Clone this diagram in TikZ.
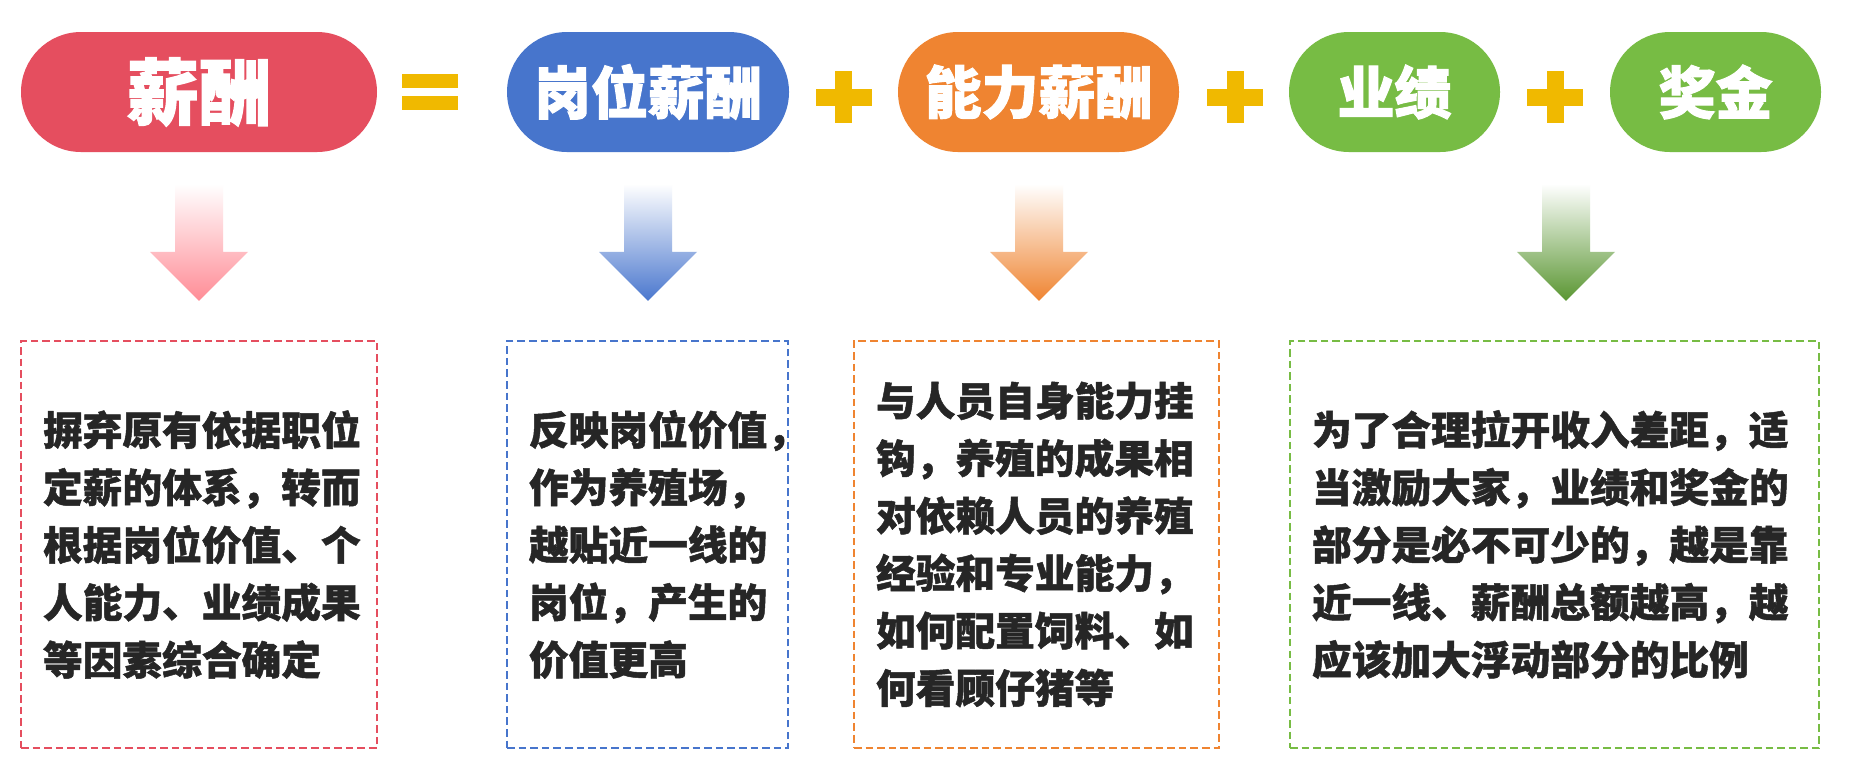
\documentclass[tikz,border=0pt]{standalone}
\usepackage{fontspec}
\newfontfamily\cjk{Noto Sans CJK SC}[BoldFeatures={FakeBold=1.2}]
\newfontfamily\cjktitle{Noto Sans CJK SC}[BoldFeatures={FakeBold=1.8}]
\usepackage{tikz}
\usetikzlibrary{calc,shapes}
\definecolor{salred}{HTML}{E54E5F}
\definecolor{salblue}{HTML}{4775CC}
\definecolor{salorange}{HTML}{EF8431}
\definecolor{salgreen}{HTML}{77BC44}
\definecolor{opyellow}{HTML}{F0B900}
\definecolor{textgray}{HTML}{262626}
\definecolor{arrowred}{HTML}{FF8C96}
\definecolor{arrowblue}{HTML}{4A77CE}
\definecolor{arrowgreen}{HTML}{5A9632}
\tikzset{
   pill/.style={rectangle, rounded corners=1.2cm, minimum height=2.4cm, fill=#1, text=white,
                inner sep=0pt, font=\cjktitle\bfseries\fontsize{32.4}{32.4}\selectfont},
   notebox/.style={draw=#1, dash pattern=on 4.3pt off 2.3pt, line width=1.4pt, minimum height=8.14cm,
                   inner xsep=0.44cm, inner ysep=0pt, align=left, text=textgray,
                   font=\cjk\bfseries\fontsize{22.6}{32.7}\selectfont},
   opbar/.style={rectangle, fill=opyellow, inner sep=0pt}
}
\newcommand{\fadearrow}[2]{%
  \shade[shift={(#1)}, top color=white, bottom color=#2]
    (-0.48,2.34) -- (0.48,2.34) -- (0.48,0.98) -- (0.98,0.98) -- (0,0)
    -- (-0.98,0.98) -- (-0.48,0.98) -- cycle;}

\begin{document}
\begin{tikzpicture}
\path[use as bounding box, fill=white] (0,0) rectangle (37.16,-15.66);
%
\node[pill=salred, minimum width=7.12cm, font=\cjktitle\bfseries\fontsize{41}{41}\selectfont] (1) at (3.98,-1.84) {薪酬};
\node[pill=salblue, minimum width=5.64cm]   (2) at (12.96,-1.84) {岗位薪酬};
\node[pill=salorange, minimum width=5.62cm] (3) at (20.77,-1.84) {能力薪酬};
\node[pill=salgreen, minimum width=4.22cm]  (4) at (27.89,-1.84) {业绩};
\node[pill=salgreen, minimum width=4.22cm]  (5) at (34.31,-1.84) {奖金};
%
\node[opbar, minimum width=1.12cm, minimum height=0.28cm] (eq1) at (8.6,-1.62) {};
\node[opbar, minimum width=1.12cm, minimum height=0.28cm] (eq2) at (8.6,-2.06) {};
\foreach \x/\n in {16.87/p1, 24.7/p2, 31.1/p3} {
  \node[opbar, minimum width=1.12cm, minimum height=0.34cm] (\n h) at (\x,-1.95) {};
  \node[opbar, minimum width=0.34cm, minimum height=1.04cm] (\n v) at (\x,-1.94) {};
}
%
\node[notebox=salred, text width=6.24cm] (11) at (3.98,-10.89)
  {摒弃原有依据职位\\定薪的体系，转而\\根据岗位价值、个\\人能力、业绩成果\\等因素综合确定};
\node[notebox=salblue, text width=4.74cm] (12) at (12.95,-10.89)
  {反映岗位价值，\\作为养殖场，\\越贴近一线的\\岗位，产生的\\价值更高};
\node[notebox=salorange, text width=6.42cm] (13) at (20.73,-10.89)
  {与人员自身能力挂\\钩，养殖的成果相\\对依赖人员的养殖\\经验和专业能力，\\如何配置饲料、如\\何看顾仔猪等};
\node[notebox=salgreen, text width=9.70cm] (14) at (31.09,-10.89)
  {为了合理拉开收入差距，适\\当激励大家，业绩和奖金的\\部分是必不可少的，越是靠\\近一线、薪酬总额越高，越\\应该加大浮动部分的比例};
%
\fadearrow{$ (11.north) + (0,0.78) $}{arrowred}
\fadearrow{$ (12.north) + (0.01,0.78) $}{arrowblue}
\fadearrow{$ (13.north) + (0.05,0.78) $}{salorange}
\fadearrow{$ (14.north) + (0.23,0.78) $}{arrowgreen}
\end{tikzpicture}
\end{document}
